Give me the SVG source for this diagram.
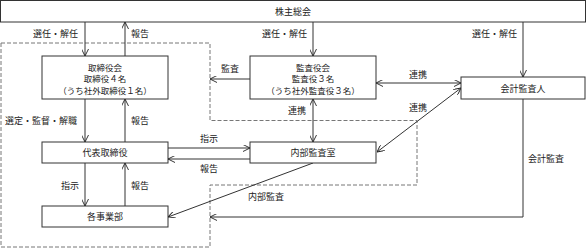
<svg xmlns="http://www.w3.org/2000/svg" width="587" height="249" viewBox="0 0 587 249">
<defs>
<marker id="ah" viewBox="0 0 10 10" refX="10" refY="5" markerWidth="7" markerHeight="7" orient="auto-start-reverse" markerUnits="userSpaceOnUse">
<polyline points="0,0 10,5 0,10" fill="none" stroke="#222" stroke-width="1.3"/>
</marker>
<style>
.box{fill:#fff;stroke:#333;stroke-width:1}
.t{font-family:"Noto Sans CJK JP","Noto Sans",sans-serif;font-size:9px;fill:#222;text-anchor:middle}
.s{font-size:8.5px}
.l{font-family:"Noto Sans CJK JP","Noto Sans",sans-serif;font-size:9px;fill:#222}
.c{fill:none;stroke:#333;stroke-width:1}
.a{marker-end:url(#ah)}
.d{marker-start:url(#ah);marker-end:url(#ah)}
.dash{fill:none;stroke:#777;stroke-width:1;stroke-dasharray:4,2}
</style>
</defs>
<rect width="587" height="249" fill="#fff"/>
<path class="dash" d="M1,43 H210 V120.5 H417 V185 H210 V247 H1 Z"/>
<g id="connectors">
<line class="c a" x1="85" y1="22" x2="85" y2="56"/>
<line class="c a" x1="125" y1="56" x2="125" y2="22"/>
<line class="c a" x1="313" y1="22" x2="313" y2="56"/>
<line class="c a" x1="523" y1="22" x2="523" y2="77"/>
<line class="c a" x1="250" y1="79" x2="210" y2="79"/>
<line class="c d" x1="376" y1="83" x2="461" y2="83"/>
<line class="c d" x1="377" y1="152" x2="461" y2="88"/>
<line class="c d" x1="313" y1="99" x2="313" y2="142"/>
<line class="c a" x1="85" y1="99" x2="85" y2="142"/>
<line class="c a" x1="125" y1="142" x2="125" y2="99"/>
<line class="c a" x1="168" y1="148" x2="250" y2="148"/>
<line class="c a" x1="250" y1="159" x2="168" y2="159"/>
<line class="c a" x1="85" y1="163" x2="85" y2="206"/>
<line class="c a" x1="125" y1="206" x2="125" y2="163"/>
<line class="c a" x1="313" y1="163" x2="168" y2="217"/>
<polyline class="c a" points="523,99 523,217 210,217"/>
<text class="l" x="33" y="37">選任・解任</text>
<text class="l" x="131" y="37">報告</text>
<text class="l" x="262" y="37">選任・解任</text>
<text class="l" x="472" y="37">選任・解任</text>
<text class="l" x="221" y="72">監査</text>
<text class="l" x="409" y="78">連携</text>
<text class="l" x="409" y="111">連携</text>
<text class="l" x="288" y="114">連携</text>
<text class="l" x="5" y="124">選定・監督・解職</text>
<text class="l" x="131" y="124">報告</text>
<text class="l" x="200" y="142">指示</text>
<text class="l" x="200" y="172">報告</text>
<text class="l" x="61" y="189">指示</text>
<text class="l" x="131" y="189">報告</text>
<text class="l" x="248" y="200">内部監査</text>
<text class="l" x="528" y="162">会計監査</text>
</g>
<g id="shareholders">
<rect class="box" x="0.5" y="0.5" width="585" height="21.5"/>
<text class="t" x="293" y="14.5">株主総会</text>
</g>
<g id="board">
<rect class="box" x="42" y="56" width="126" height="43"/>
<text class="t s" x="105" y="70.5">取締役会</text>
<text class="t s" x="105" y="82">取締役４名</text>
<text class="t s" x="105" y="93.5">（うち社外取締役１名）</text>
</g>
<g id="auditboard">
<rect class="box" x="250" y="56" width="126" height="43"/>
<text class="t s" x="313" y="70.5">監査役会</text>
<text class="t s" x="313" y="82">監査役３名</text>
<text class="t s" x="313" y="93.5">（うち社外監査役３名）</text>
</g>
<g id="accountant">
<rect class="box" x="461" y="77" width="124" height="22"/>
<text class="t" x="523" y="91.5">会計監査人</text>
</g>
<g id="representative">
<rect class="box" x="42" y="142" width="126" height="21"/>
<text class="t" x="105" y="156">代表取締役</text>
</g>
<g id="internalaudit">
<rect class="box" x="250" y="142" width="126" height="21"/>
<text class="t" x="313" y="156">内部監査室</text>
</g>
<g id="divisions">
<rect class="box" x="42" y="206" width="126" height="21"/>
<text class="t" x="105" y="220">各事業部</text>
</g>
</svg>
